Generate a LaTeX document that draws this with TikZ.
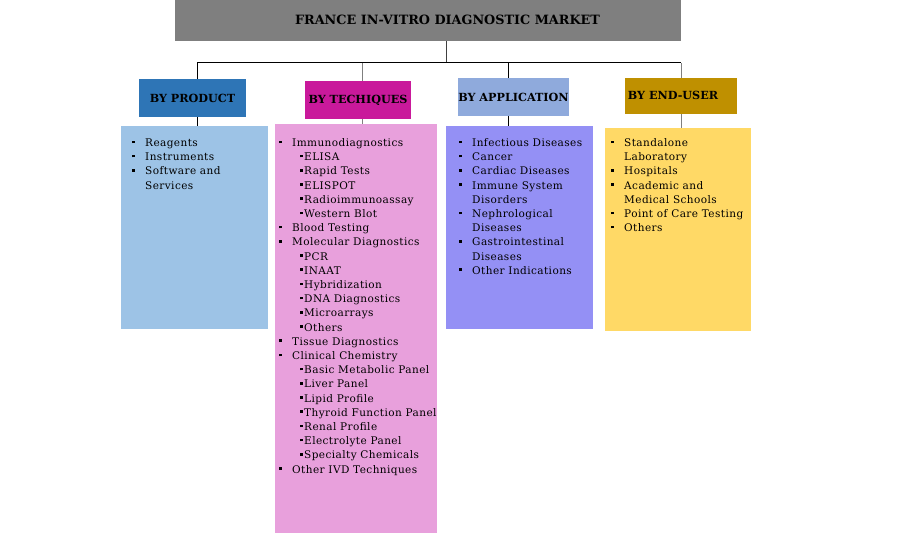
\documentclass[tikz,border=0pt]{standalone}
\usepackage{fontspec}
\setmainfont{DejaVu Serif}
\newfontfamily\listfont{DejaVu Serif}[LetterSpace=4]
\usetikzlibrary{calc}

\definecolor{hdgray}{HTML}{7F7F7F}
\definecolor{prodblue}{HTML}{2E75B6}
\definecolor{techmag}{HTML}{C9199B}
\definecolor{applblue}{HTML}{8FAADC}
\definecolor{endgold}{HTML}{BF9000}
\definecolor{prodfill}{HTML}{9DC3E6}
\definecolor{techfill}{HTML}{E8A0DC}
\definecolor{applfill}{HTML}{9490F5}
\definecolor{endfill}{HTML}{FFD966}

\newcommand{\sqb}{\raisebox{3.3pt}{\rule{2.6pt}{2.6pt}}}
\newcommand{\itm}[1]{\makebox[13pt][l]{\sqb}#1}
\newcommand{\cnt}[1]{\hspace*{13pt}#1}
\newcommand{\subitm}[1]{\hspace*{21pt}\sqb\hspace{1.4pt}#1}

\begin{document}
\begin{tikzpicture}[x=1pt,y=-1pt,
  headbox/.style={fill=hdgray,inner sep=0,minimum width=506pt,minimum height=41pt,
    font=\fontsize{12.8}{15}\selectfont\bfseries},
  catbox/.style={inner sep=0,minimum height=38pt,font=\fontsize{11.2}{13}\selectfont\bfseries},
  listbox/.style={inner sep=0,minimum width=147pt,minimum height=203pt},
  listtext/.style={anchor=base west,inner sep=0,font=\listfont\fontsize{10.5}{14.2}\selectfont},
  link/.style={line width=1pt,color=black},
  glink/.style={line width=1pt,color=hdgray}]

\useasboundingbox (0,0) rectangle (922,543);

\node[headbox] (top) at (428,20.5) {\raisebox{1.5pt}{\hspace*{39pt}FRANCE IN-VITRO DIAGNOSTIC MARKET}};

\node[catbox,fill=prodblue,minimum width=107pt] (prod) at (192.5,98) {BY PRODUCT};
\node[catbox,fill=techmag,minimum width=106pt] (tech) at (358,100) {BY TECHIQUES};
\node[catbox,fill=applblue,minimum width=111pt] (appl) at (513.5,97) {BY APPLICATION};
\node[catbox,fill=endgold,minimum width=112pt,minimum height=36pt] (endu) at (681,96) {\raisebox{1pt}{\hspace*{-16pt}BY END-USER}};

\node[listbox,fill=prodfill] (prodlist) at (194.5,227.5) {};
\node[listbox,fill=techfill,minimum width=162pt,minimum height=409pt] (techlist) at (356,328.5) {};
\node[listbox,fill=applfill] (appllist) at (519.5,227.5) {};
\node[listbox,fill=endfill,minimum width=146pt] (endulist) at (678,229.5) {};

% taps on the bus
\coordinate (bus) at (446,63);
\coordinate (prodtap) at ([xshift=4.5pt]prod.north);
\coordinate (techtap) at ([xshift=4pt]tech.north);
\coordinate (appltap) at ([xshift=-5.5pt]appl.north);
\coordinate (endtap) at (endu.north);

\draw[link,color=black!75] (top.south -| bus) -- (bus);
\draw[link] (prodtap |- bus) -- (endtap |- bus);

\draw[link] (prodtap |- bus) -- (prodtap);
\draw[glink] (techtap |- bus) -- (techtap);
\draw[link] (appltap |- bus) -- (appltap);
\draw[glink] (endtap |- bus) -- (endtap);

\draw[link] (prodtap |- prod.south) -- (prodtap |- prodlist.north);
\draw[glink] (techtap |- tech.south) -- (techtap |- techlist.north);
\draw[link] (appltap |- appl.south) -- (appltap |- appllist.north);
\draw[glink] (endtap |- endu.south) -- (endtap |- endulist.north);

\node[listtext] (prodtext) at (132,146.5) {\parbox[t]{130pt}{\raggedright
  \itm{Reagents}\\
  \itm{Instruments}\\
  \itm{Software and}\\
  \cnt{Services}}};

\node[listtext] (techtext) at (279,146.5) {\parbox[t]{170pt}{\raggedright
  \itm{Immunodiagnostics}\\
  \subitm{ELISA}\\
  \subitm{Rapid Tests}\\
  \subitm{ELISPOT}\\
  \subitm{Radioimmunoassay}\\
  \subitm{Western Blot}\\
  \itm{Blood Testing}\\
  \itm{Molecular Diagnostics}\\
  \subitm{PCR}\\
  \subitm{INAAT}\\
  \subitm{Hybridization}\\
  \subitm{DNA Diagnostics}\\
  \subitm{Microarrays}\\
  \subitm{Others}\\
  \itm{Tissue Diagnostics}\\
  \itm{Clinical Chemistry}\\
  \subitm{Basic Metabolic Panel}\\
  \subitm{Liver Panel}\\
  \subitm{Lipid Profile}\\
  \subitm{Thyroid Function Panel}\\
  \subitm{Renal Profile}\\
  \subitm{Electrolyte Panel}\\
  \subitm{Specialty Chemicals}\\
  \itm{Other IVD Techniques}}};

\node[listtext] (appltext) at (459,146.5) {\parbox[t]{140pt}{\raggedright
  \itm{Infectious Diseases}\\
  \itm{Cancer}\\
  \itm{Cardiac Diseases}\\
  \itm{Immune System}\\
  \cnt{Disorders}\\
  \itm{Nephrological}\\
  \cnt{Diseases}\\
  \itm{Gastrointestinal}\\
  \cnt{Diseases}\\
  \itm{Other Indications}}};

\node[listtext] (endutext) at (611,146.5) {\parbox[t]{140pt}{\raggedright
  \itm{Standalone}\\
  \cnt{Laboratory}\\
  \itm{Hospitals}\\
  \itm{Academic and}\\
  \cnt{Medical Schools}\\
  \itm{Point of Care Testing}\\
  \itm{Others}}};

\end{tikzpicture}
\end{document}
